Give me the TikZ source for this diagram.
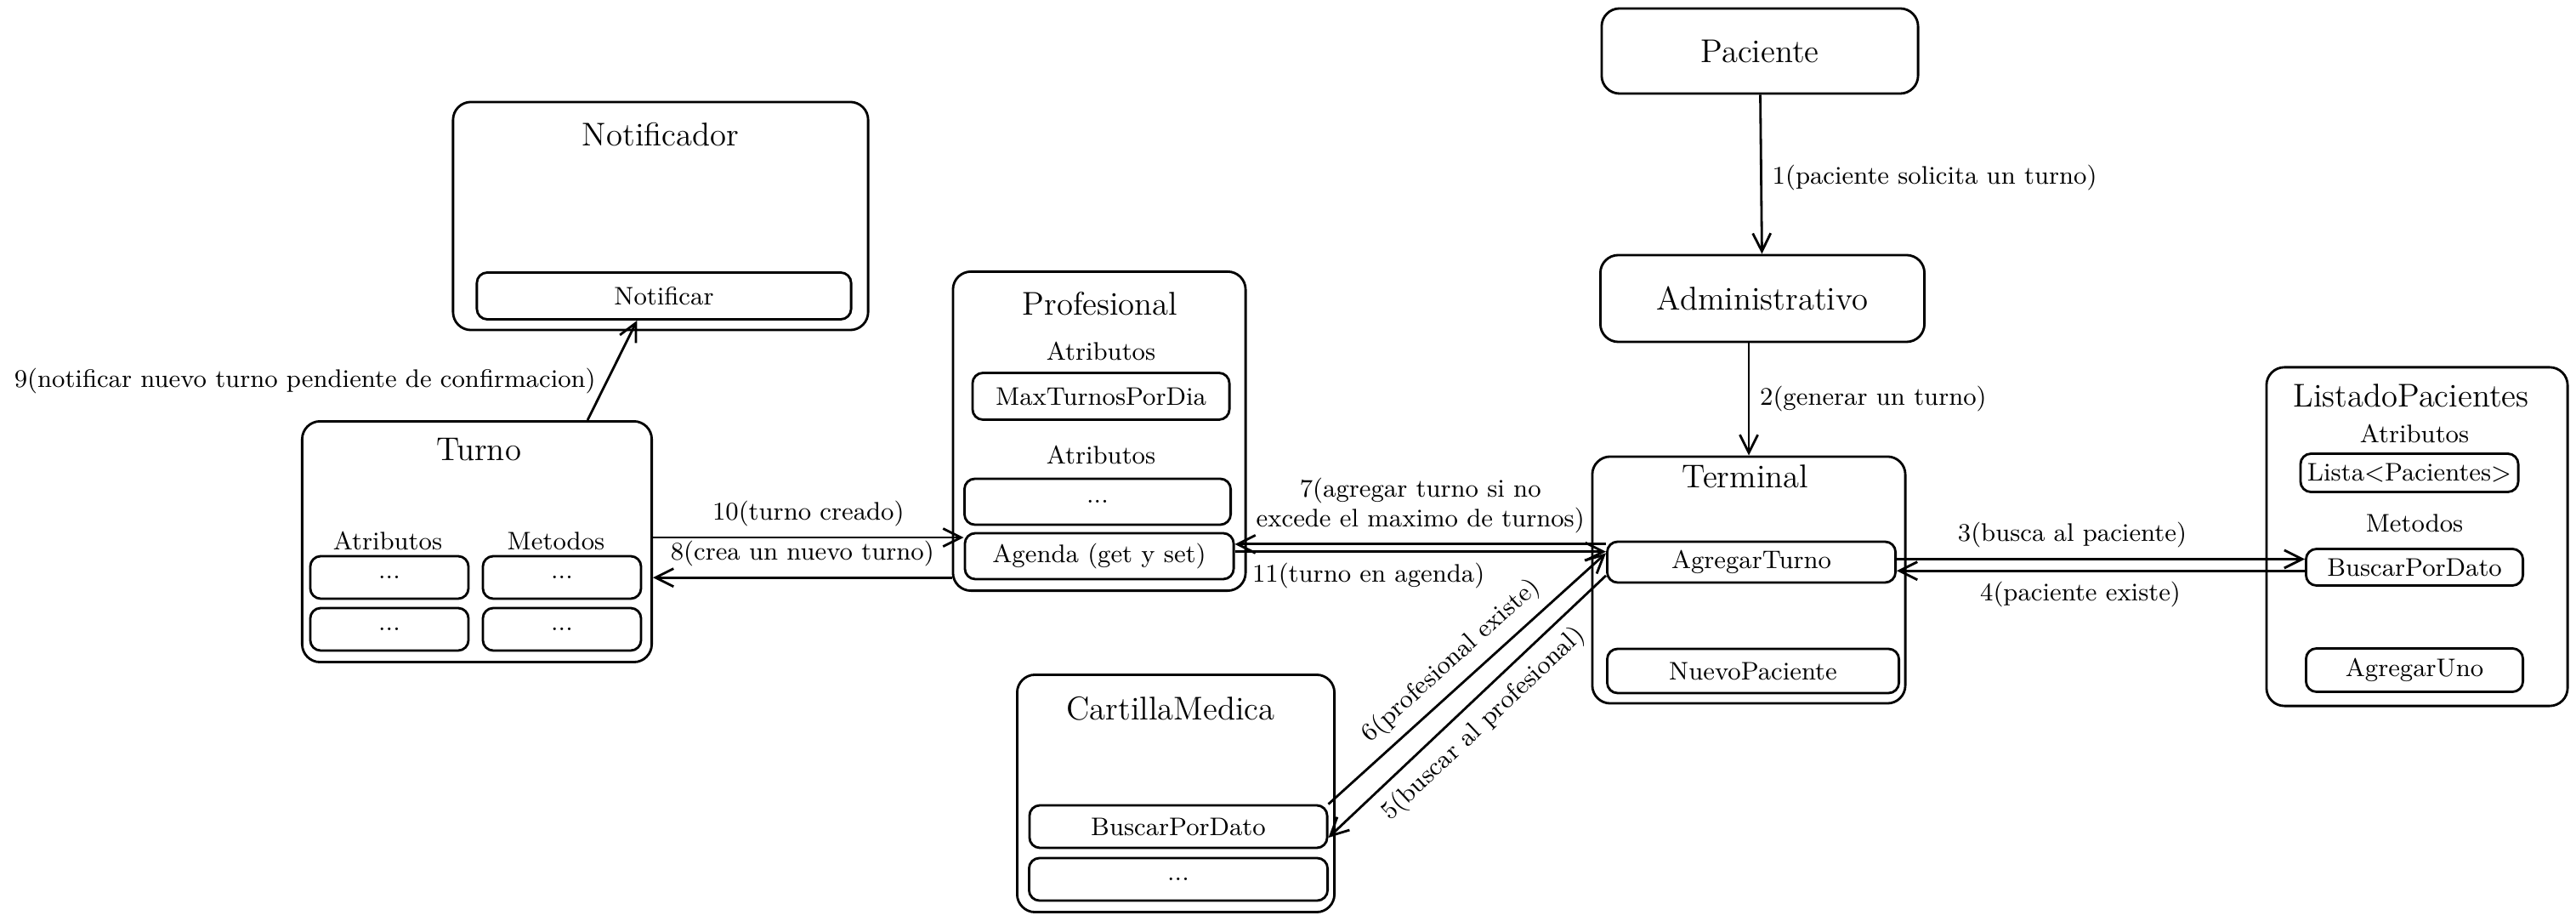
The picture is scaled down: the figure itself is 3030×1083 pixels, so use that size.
\documentclass[tikz,border=0pt]{standalone}
\usepackage{tikz}
\usetikzlibrary{arrows.meta}

\begin{document}
\begin{tikzpicture}[x=0.01cm, y=-0.01cm,
  cls/.style={draw, line width=0.8pt, rounded corners=6pt, inner sep=0pt},
  item/.style={draw, line width=0.8pt, rounded corners=3.5pt, inner sep=0pt, font=\fontsize{8.5}{10}\selectfont},
  title/.style={font=\fontsize{11}{13}\selectfont},
  txt/.style={font=\fontsize{8.5}{10}\selectfont},
  flow/.style={->, line width=0.8pt},
  >={Straight Barb[length=6pt,width=6pt]}]
\useasboundingbox (0,0) rectangle (3030,1083);

% Define nodes
\node[cls, title, minimum width=3.72cm, minimum height=1.00cm] (paciente) at (2070,60) {Paciente};
\node[cls, title, minimum width=3.81cm, minimum height=1.02cm] (admin) at (2073,351) {Administrativo};

\node[cls, minimum width=3.68cm, minimum height=2.90cm] (terminal) at (2057,682) {};
\node[title] (terminalT) at (2053,560) {Terminal};
\node[item, minimum width=3.39cm, minimum height=0.48cm] (agregar) at (2060,661) {AgregarTurno};
\node[item, minimum width=3.43cm, minimum height=0.52cm] (nuevo) at (2062,789) {NuevoPaciente};

\node[cls, minimum width=3.54cm, minimum height=3.98cm] (listado) at (2843,631) {};
\node[title] (listadoT) at (2836,465) {ListadoPacientes};
\node[txt] (listadoA) at (2840,510) {Atributos};
\node[item, minimum width=2.56cm, minimum height=0.45cm] (lista) at (2834,556) {Lista\textless Pacientes\textgreater};
\node[txt] (listadoM) at (2840,615) {Metodos};
\node[item, minimum width=2.55cm, minimum height=0.43cm] (buscarlp) at (2840,667) {BuscarPorDato};
\node[item, minimum width=2.55cm, minimum height=0.51cm] (agregaruno) at (2840,788) {AgregarUno};

\node[cls, minimum width=3.44cm, minimum height=3.75cm] (profesional) at (1293,507) {};
\node[title] (profesionalT) at (1294,357) {Profesional};
\node[txt] (profA1) at (1295,413) {Atributos};
\node[item, minimum width=3.02cm, minimum height=0.55cm] (maxturnos) at (1295,466) {MaxTurnosPorDia};
\node[txt] (profA2) at (1295,535) {Atributos};
\node[item, minimum width=3.13cm, minimum height=0.54cm] (profdots) at (1291,590) {...};
\node[item, minimum width=3.16cm, minimum height=0.54cm] (agenda) at (1293,654) {Agenda (get y set)};

\node[cls, minimum width=4.11cm, minimum height=2.83cm] (turno) at (561,637) {};
\node[title] (turnoT) at (563,529) {Turno};
\node[txt] (turnoA) at (456,636) {Atributos};
\node[txt] (turnoM) at (654,636) {Metodos};
\node[item, minimum width=1.86cm, minimum height=0.50cm] (turnoA1) at (458,679) {...};
\node[item, minimum width=1.86cm, minimum height=0.50cm] (turnoA2) at (458,740) {...};
\node[item, minimum width=1.86cm, minimum height=0.50cm] (turnoM1) at (661,679) {...};
\node[item, minimum width=1.86cm, minimum height=0.50cm] (turnoM2) at (661,740) {...};

\node[cls, minimum width=4.88cm, minimum height=2.68cm] (notificador) at (777,254) {};
\node[title] (notificadorT) at (777,158) {Notificador};
\node[item, minimum width=4.40cm, minimum height=0.55cm] (notificar) at (781,348) {Notificar};

\node[cls, minimum width=3.73cm, minimum height=2.79cm] (cartilla) at (1383,933) {};
\node[title] (cartillaT) at (1377,833) {CartillaMedica};
\node[item, minimum width=3.50cm, minimum height=0.50cm] (buscarcm) at (1386,972) {BuscarPorDato};
\node[item, minimum width=3.51cm, minimum height=0.50cm] (cartdots) at (1386,1034) {...};

% Edges
\draw[flow] (paciente) -- node[right, txt, pos=0.52] {1(paciente solicita un turno)} (admin);
\draw[flow] (admin.south -| terminal.north) -- node[right, txt] {2(generar un turno)} (terminal.north);
\draw[flow] ([yshift=1pt]agregar.east) -- node[above, txt, pos=0.43] {3(busca al paciente)} ([yshift=1pt]agregar.east -| buscarlp.west);
\draw[flow] ([yshift=-1.2pt]buscarlp.west) -- node[below, txt, pos=0.55] {4(paciente existe)} ([yshift=-1.2pt]buscarlp.west -| agregar.east);
\draw[flow, <-] ([yshift=-3.7pt]buscarcm.east) -- node[sloped, below, txt] {5(buscar al profesional)} ([yshift=-4.5pt]agregar.west);
\draw[flow] (buscarcm.north east) -- node[sloped, above, txt] {6(profesional existe)} ([yshift=3pt]agregar.west);
\draw[flow] ([yshift=6pt]agregar.west) -- node[above, txt, align=center] {7(agregar turno si no\\excede el maximo de turnos)} ([yshift=6pt]agregar.west -| agenda.east);
\draw[flow] ([yshift=-12pt]turno.east -| profesional.west) -- node[above, txt] {8(crea un nuevo turno)} ([yshift=-12pt]turno.east);
\draw[flow] ([xshift=37pt]turno.north) -- node[left, txt, pos=0.39] {9(notificar nuevo turno pendiente de confirmacion)} ([xshift=-9pt]notificar.south);
\draw[flow] ([yshift=1.4pt]turno.east) -- node[above, txt] {10(turno creado)} ([yshift=1.4pt]turno.east -| agenda.west);
\draw[flow] ([yshift=1.5pt]agenda.east) -- node[below, txt, pos=0.36] {11(turno en agenda)} ([yshift=1.5pt]agenda.east -| agregar.west);
\end{tikzpicture}
\end{document}
